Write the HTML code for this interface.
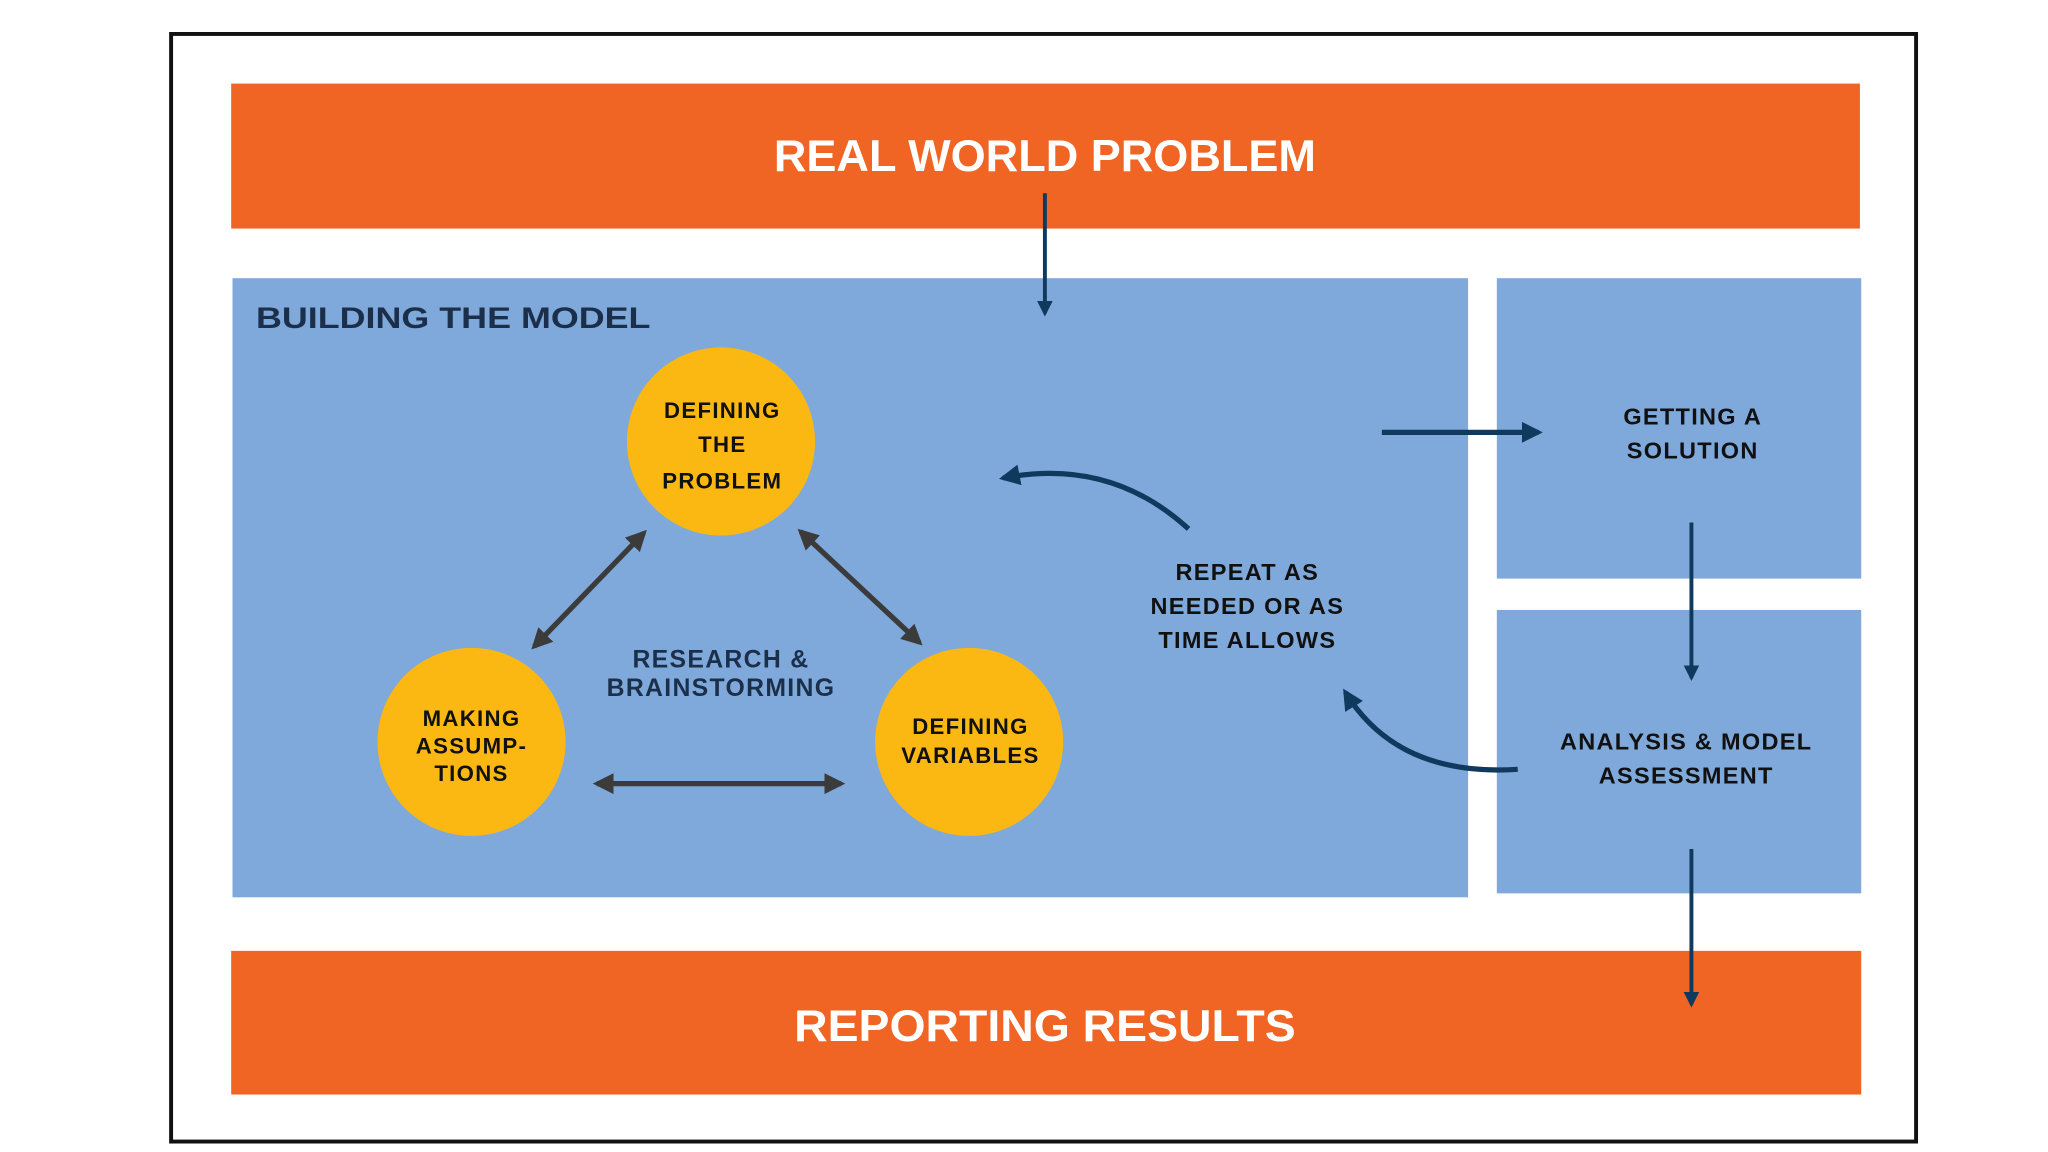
<!DOCTYPE html>
<html><head><meta charset="utf-8"><style>
html,body{margin:0;padding:0;background:#fff;}
svg{display:block;}
text{font-family:"Liberation Sans",sans-serif;font-weight:bold;}
</style></head><body>
<svg width="2048" height="1152" viewBox="0 0 1568 882" preserveAspectRatio="none" xmlns="http://www.w3.org/2000/svg">
<defs>
<marker id="nv" viewBox="0 0 10 10" refX="8" refY="5" markerWidth="4" markerHeight="4" orient="auto-start-reverse"><path d="M0,0 L10,5 L0,10 z" fill="#0f3a5e"/></marker>
<marker id="gr" viewBox="0 0 10 10" refX="8" refY="5" markerWidth="4" markerHeight="4" orient="auto-start-reverse"><path d="M0,0 L10,5 L0,10 z" fill="#3b3b3b"/></marker>
</defs>
<rect x="0" y="0" width="1568" height="882" fill="#fff"/>
<rect x="131" y="26" width="1336" height="848" fill="#fff" stroke="#111" stroke-width="3"/>
<rect x="177" y="64" width="1247" height="111" fill="#f06424"/>
<text x="800" y="131" text-anchor="middle" fill="#fff" font-size="34" textLength="415" lengthAdjust="spacingAndGlyphs">REAL WORLD PROBLEM</text>
<rect x="178" y="213" width="946" height="474" fill="#7fa9da"/>
<rect x="1146" y="213" width="279" height="230" fill="#7fa9da"/>
<rect x="1146" y="467" width="279" height="217" fill="#7fa9da"/>
<rect x="177" y="728" width="1248" height="110" fill="#f06424"/>
<text x="800" y="797" text-anchor="middle" fill="#fff" font-size="34" textLength="384" lengthAdjust="spacingAndGlyphs">REPORTING RESULTS</text>
<text x="196" y="251" fill="#1c2f4a" font-size="23" textLength="302" lengthAdjust="spacingAndGlyphs">BUILDING THE MODEL</text>
<line x1="800" y1="148" x2="800" y2="240" stroke="#0f3a5e" stroke-width="3" marker-end="url(#nv)"/>
<circle cx="552" cy="338" r="72" fill="#fbb812"/>
<circle cx="361" cy="568" r="72" fill="#fbb812"/>
<circle cx="742" cy="568" r="72" fill="#fbb812"/>
<g font-size="17" fill="#111" text-anchor="middle" letter-spacing="1">
<text x="553" y="320">DEFINING</text><text x="553" y="346">THE</text><text x="553" y="374">PROBLEM</text>
<text x="361" y="556">MAKING</text><text x="361" y="577">ASSUMP-</text><text x="361" y="598">TIONS</text>
<text x="743" y="562">DEFINING</text><text x="743" y="584">VARIABLES</text>
</g>
<g font-size="19" fill="#1c2f4a" text-anchor="middle" letter-spacing="1">
<text x="552" y="511">RESEARCH &amp;</text><text x="552" y="533">BRAINSTORMING</text>
</g>
<g stroke="#3b3b3b" stroke-width="4">
<line x1="493" y1="408" x2="409" y2="495" marker-start="url(#gr)" marker-end="url(#gr)"/>
<line x1="613" y1="407" x2="704" y2="492" marker-start="url(#gr)" marker-end="url(#gr)"/>
<line x1="457" y1="600" x2="644" y2="600" marker-start="url(#gr)" marker-end="url(#gr)"/>
</g>
<line x1="1058" y1="331" x2="1178" y2="331" stroke="#0f3a5e" stroke-width="4" marker-end="url(#nv)"/>
<path d="M910,405 Q850,350 768,366" fill="none" stroke="#0f3a5e" stroke-width="4" marker-end="url(#nv)"/>
<path d="M1162,589 Q1070,595 1030,530" fill="none" stroke="#0f3a5e" stroke-width="4" marker-end="url(#nv)"/>
<g font-size="18" fill="#111" text-anchor="middle" letter-spacing="1">
<text x="955" y="444">REPEAT AS</text><text x="955" y="470">NEEDED OR AS</text><text x="955" y="496">TIME ALLOWS</text>
<text x="1296" y="325">GETTING A</text><text x="1296" y="351">SOLUTION</text>
<text x="1291" y="574">ANALYSIS &amp; MODEL</text><text x="1291" y="600">ASSESSMENT</text>
</g>
<line x1="1295" y1="400" x2="1295" y2="519" stroke="#0f3a5e" stroke-width="3" marker-end="url(#nv)"/>
<line x1="1295" y1="650" x2="1295" y2="769" stroke="#0f3a5e" stroke-width="3" marker-end="url(#nv)"/>
</svg>
</body></html>
